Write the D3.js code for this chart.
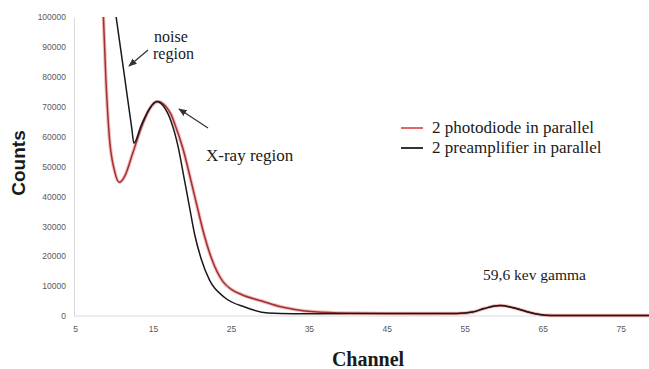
<!DOCTYPE html>
<html>
<head>
<meta charset="utf-8">
<script src="https://cdn.jsdelivr.net/npm/d3@7"></script>
<style>
  html, body { margin: 0; padding: 0; background: #fff; }
  svg { display: block; }
  .tick text { font-family: "Liberation Sans", Arial, sans-serif; font-size: 8.5px; fill: #595959; }
  .serif { font-family: "Liberation Serif", "Times New Roman", serif; fill: #1a1a1a; }
</style>
</head>
<body>
<div id="chart"></div>
<script>
// Values
const redChannel = [8.6, 8.95, 9.4, 10.05, 10.7, 11.35, 12.4, 13.5, 14.6, 15.6, 16.6, 17.3, 17.76, 18.84, 19.9, 20.68, 21.41, 22.48, 23.98, 25, 26.34, 29.33, 31.4, 33.2, 35.7, 40, 45, 50, 54, 56, 57.5, 59.5, 61.5, 63, 64.6, 66, 70, 79];
const redCounts = [103000, 80000, 60000, 48800, 44700, 46600, 54400, 63000, 69400, 71700, 70200, 67500, 64500, 56000, 45000, 36500, 28700, 19500, 11500, 9000, 7200, 4700, 3100, 2200, 1400, 950, 850, 800, 850, 1300, 2500, 3500, 2600, 1400, 500, 200, 150, 150];

const blackChannel = [10.25, 11.4, 12.3, 12.55, 13.5, 14.6, 15.45, 16.4, 17.34, 18.24, 19.0, 19.65, 20.33, 21.2, 22.26, 24.19, 26.76, 29.77, 33, 40, 45, 50, 54, 56, 57.5, 59.5, 61.5, 63, 64.6, 66, 70, 79];
const blackCounts = [100500, 79200, 62400, 57800, 63800, 69500, 71700, 70000, 65000, 56500, 46000, 37000, 27500, 19000, 12000, 6200, 3000, 1000, 750, 800, 800, 800, 850, 1300, 2500, 3500, 2600, 1400, 500, 200, 150, 150];

const yTicks = [0, 10000, 20000, 30000, 40000, 50000, 60000, 70000, 80000, 90000, 100000];
const xTicks = [5, 15, 25, 35, 45, 55, 65, 75];

const seriesNames = ['2 photodiode in parallel', '2 preamplifier in parallel'];

const width = 649, height = 369;

const svg = d3.select('#chart')
  .append('svg')
  .attr('width', width)
  .attr('height', height);

const x = d3.scaleLinear().domain([5, 78.63]).range([75, 649]);
const y = d3.scaleLinear().domain([0, 100000]).range([316, 17]);

// Axes
const yAxis = svg.append('g')
  .attr('transform', 'translate(74,0)')
  .call(d3.axisLeft(y).tickValues(yTicks).tickSize(0).tickPadding(8).tickFormat(d3.format('d')));
yAxis.select('.domain').attr('stroke', '#d9d9d9');

const xAxis = svg.append('g')
  .attr('transform', 'translate(0,316)')
  .call(d3.axisBottom(x).tickValues(xTicks).tickSize(0).tickPadding(10).tickFormat(d3.format('d')));
xAxis.select('.domain').attr('stroke', '#d9d9d9').attr('d', 'M74,0H649');

// Curves
svg.append('clipPath').attr('id', 'plot-clip')
  .append('rect').attr('x', 74).attr('y', 17).attr('width', width - 74).attr('height', 310);

const line = d3.line()
  .x(d => x(d[0]))
  .y(d => y(d[1]))
  .curve(d3.curveMonotoneX);

const redData = d3.zip(redChannel, redCounts);
const blackData = d3.zip(blackChannel, blackCounts);

const plot = svg.append('g').attr('clip-path', 'url(#plot-clip)');

plot.append('path')
  .datum(redData)
  .attr('d', line)
  .attr('fill', 'none')
  .attr('stroke', '#f5bcbc')
  .attr('stroke-width', 3.6);

plot.append('path')
  .datum(redData)
  .attr('d', line)
  .attr('fill', 'none')
  .attr('stroke', '#9e3232')
  .attr('stroke-width', 1.5);

plot.append('path')
  .datum(blackData)
  .attr('d', line)
  .attr('fill', 'none')
  .attr('stroke', '#1a1a1a')
  .attr('stroke-width', 1.5);

// Axis titles
svg.append('text')
  .attr('transform', 'translate(25,163) rotate(-90)')
  .attr('text-anchor', 'middle')
  .style('font-family', '"Liberation Sans", Arial, sans-serif')
  .style('font-weight', 'bold')
  .style('font-size', '19px')
  .attr('fill', '#1a1a1a')
  .text('Counts');

svg.append('text')
  .attr('class', 'serif')
  .attr('x', 368)
  .attr('y', 366)
  .attr('text-anchor', 'middle')
  .style('font-weight', 'bold')
  .style('font-size', '20px')
  .text('Channel');

// Legend
const legend = svg.append('g');
const legendColors = ['#e06666', '#333333'];
seriesNames.forEach((name, i) => {
  const ly = 128 + i * 20;
  legend.append('line')
    .attr('x1', 401).attr('x2', 423)
    .attr('y1', ly).attr('y2', ly)
    .attr('stroke', legendColors[i])
    .attr('stroke-width', 2);
  legend.append('text')
    .attr('class', 'serif')
    .attr('x', 432)
    .attr('y', ly + 5)
    .style('font-size', '17px')
    .text(name);
});

// Annotations
svg.append('defs').append('marker')
  .attr('id', 'arrow')
  .attr('viewBox', '0 0 10 10')
  .attr('refX', 9).attr('refY', 5)
  .attr('markerWidth', 7).attr('markerHeight', 7)
  .attr('orient', 'auto')
  .append('path')
  .attr('d', 'M0,1L10,5L0,9Z')
  .attr('fill', '#333');

const notes = [
  { text: 'noise', x: 154, y: 42, size: 16 },
  { text: 'region', x: 153, y: 59, size: 16 },
  { text: 'X-ray region', x: 206, y: 161, size: 17 },
  { text: '59,6 kev gamma', x: 483, y: 280, size: 15.5 }
];
notes.forEach(n => {
  svg.append('text')
    .attr('class', 'serif')
    .attr('x', n.x)
    .attr('y', n.y)
    .style('font-size', n.size + 'px')
    .text(n.text);
});

const arrows = [
  [148, 50, 129, 66],
  [208, 128, 179, 109]
];
arrows.forEach(a => {
  svg.append('line')
    .attr('x1', a[0]).attr('y1', a[1])
    .attr('x2', a[2]).attr('y2', a[3])
    .attr('stroke', '#333')
    .attr('stroke-width', 1.2)
    .attr('marker-end', 'url(#arrow)');
});
</script>
</body>
</html>
